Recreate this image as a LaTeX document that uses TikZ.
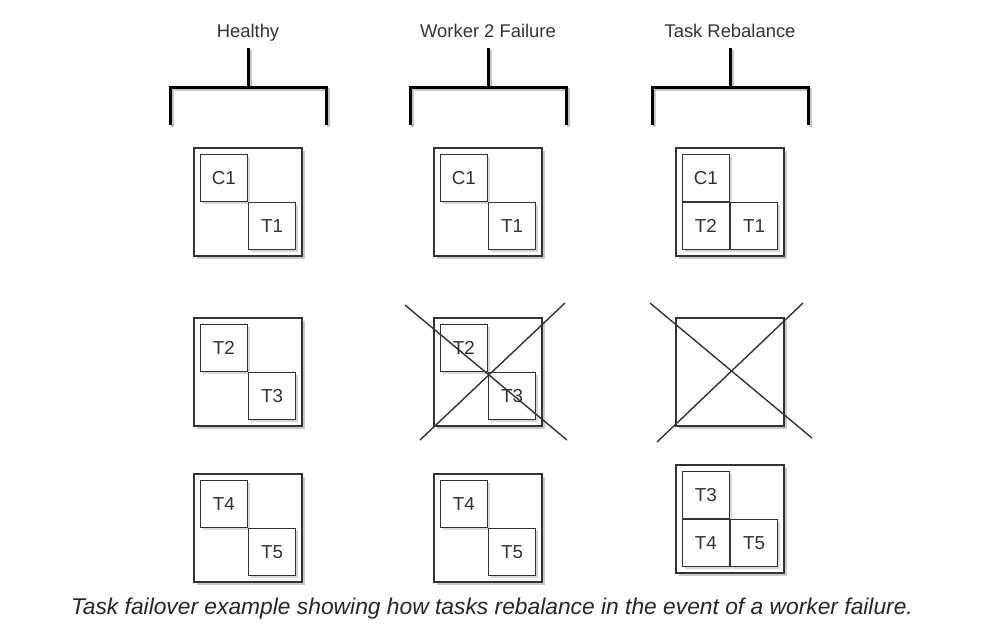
\documentclass[tikz,border=0pt]{standalone}
\usepackage{fontspec}
\setmainfont{Liberation Sans}
\usepackage{tikz}
\usetikzlibrary{positioning, calc, shadows}
\definecolor{inkgrey}{HTML}{333333}
\tikzstyle{worker} = [rectangle, draw=inkgrey, line width=0.75pt, fill=white,
    minimum size=54pt, inner sep=0pt,
    drop shadow={shadow xshift=1.5pt, shadow yshift=-1.5pt, fill=gray!70, opacity=0.6}]
\tikzstyle{task} = [rectangle, draw=inkgrey, line width=0.7pt, fill=white,
    minimum size=23.5pt, inner sep=0pt, text=inkgrey,
    font=\fontsize{9.4}{11}\selectfont,
    drop shadow={shadow xshift=1.2pt, shadow yshift=-1.2pt, fill=gray!60, opacity=0.5}]
\tikzstyle{title} = [text=inkgrey, anchor=base, font=\fontsize{9.2}{11}\selectfont]
\tikzstyle{bracket} = [draw=black, line width=1.5pt,
    preaction={draw=gray!45, line width=1.5pt, transform canvas={shift={(1pt,-1pt)}}}]
\tikzstyle{cross} = [draw=inkgrey, line width=0.7pt]

\begin{document}
\begin{tikzpicture}[x=0.5pt, y=-0.5pt]
    \useasboundingbox (0,0) rectangle (1000,634);
    % Titles
    \node [title] (healthy) at (248,37) {Healthy};
    \node [title] (failure) at (488,37) {Worker 2 Failure};
    \node [title] (rebalance) at (730,37) {Task Rebalance};
    % Brackets
    \draw [bracket] ($(healthy.base)+(0,11)$) -- ++(0,39) coordinate (hb);
    \draw [bracket] ($(hb)+(-78,38)$) -- ++(0,-38) -- ++(156,0) -- ++(0,38);
    \draw [bracket] ($(failure.base)+(0,11)$) -- ++(0,39) coordinate (fb);
    \draw [bracket] ($(fb)+(-78,38)$) -- ++(0,-38) -- ++(156,0) -- ++(0,38);
    \draw [bracket] ($(rebalance.base)+(0,11)$) -- ++(0,39) coordinate (rb);
    \draw [bracket] ($(rb)+(-78,38)$) -- ++(0,-38) -- ++(156,0) -- ++(0,38);

    % Healthy
    \node [worker] (h1) at (248,202) {};
    \node [task, above left=0pt of h1.center] (h1c1) {C1};
    \node [task, below right=0pt of h1.center] (h1t1) {T1};
    \node [worker] (h2) at (248,372) {};
    \node [task, above left=0pt of h2.center] (h2t2) {T2};
    \node [task, below right=0pt of h2.center] (h2t3) {T3};
    \node [worker] (h3) at (248,528) {};
    \node [task, above left=0pt of h3.center] (h3t4) {T4};
    \node [task, below right=0pt of h3.center] (h3t5) {T5};

    % Worker 2 failure
    \node [worker] (f1) at (488,202) {};
    \node [task, above left=0pt of f1.center] (f1c1) {C1};
    \node [task, below right=0pt of f1.center] (f1t1) {T1};
    \node [worker] (f2) at (488,372) {};
    \node [task, above left=0pt of f2.center] (f2t2) {T2};
    \node [task, below right=0pt of f2.center] (f2t3) {T3};
    \draw [cross] ($(f2)+(-83,-67)$) -- ($(f2)+(79,68)$);
    \draw [cross] ($(f2)+(77,-69)$) -- ($(f2)+(-68,68)$);
    \node [worker] (f3) at (488,528) {};
    \node [task, above left=0pt of f3.center] (f3t4) {T4};
    \node [task, below right=0pt of f3.center] (f3t5) {T5};

    % Task rebalance
    \node [worker] (r1) at (730,202) {};
    \node [task, above left=0pt of r1.center] (r1c1) {C1};
    \node [task, below left=0pt of r1.center] (r1t2) {T2};
    \node [task, below right=0pt of r1.center] (r1t1) {T1};
    \node [worker] (r2) at (730,372) {};
    \draw [cross] ($(r2)+(-80,-69)$) -- ($(r2)+(82,66)$);
    \draw [cross] ($(r2)+(73,-69)$) -- ($(r2)+(-73,70)$);
    \node [worker] (r3) at (730,519) {};
    \node [task, above left=0pt of r3.center] (r3t3) {T3};
    \node [task, below left=0pt of r3.center] (r3t4) {T4};
    \node [task, below right=0pt of r3.center] (r3t5) {T5};

    % Caption
    \node [text=black!85, font=\fontsize{11.4}{13}\selectfont\itshape] (caption) at (492,609)
        {Task failover example showing how tasks rebalance in the event of a worker failure.};
\end{tikzpicture}
\end{document}
